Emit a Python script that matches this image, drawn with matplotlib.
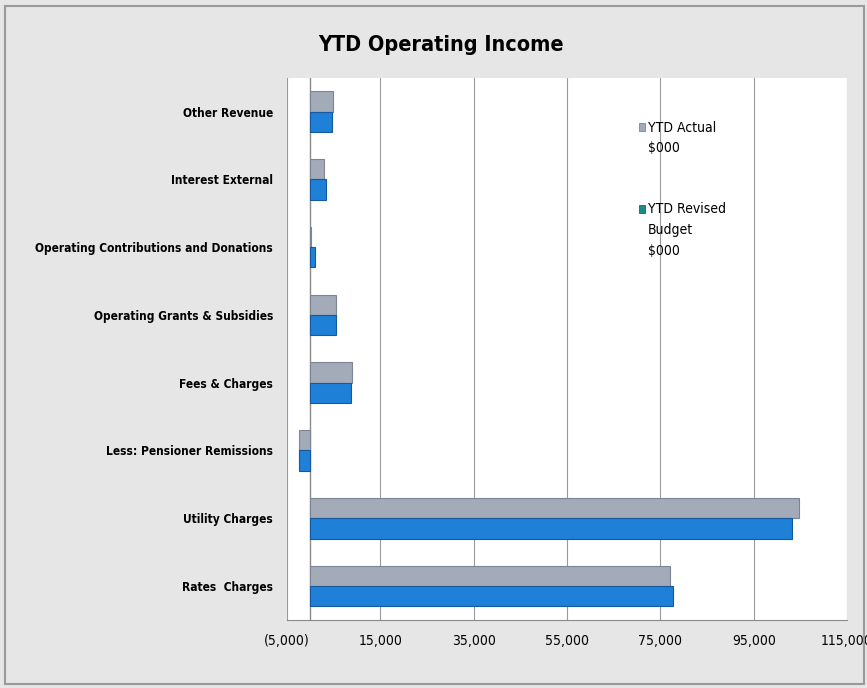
import matplotlib.pyplot as plt
from matplotlib.ticker import FuncFormatter
import matplotlib.patches as mpatches
import numpy as np

# Data (bottom to top)
categories = ['Rates  Charges', 'Utility Charges', 'Less: Pensioner Remissions',
              'Fees & Charges', 'Operating Grants & Subsidies',
              'Operating Contributions and Donations', 'Interest External', 'Other Revenue']
ytd_actual = [77100, 104800, -2400, 8900, 5600, 250, 2900, 4900]
ytd_budget = [77700, 103300, -2500, 8700, 5600, 1100, 3400, 4600]
xticks = [-5000, 15000, 35000, 55000, 75000, 95000, 115000]
series_names = ['YTD Actual\n$000', 'YTD Revised\nBudget\n$000']

plt.rcParams['font.family'] = ['DejaVu Sans']
plt.rcParams['font.stretch'] = 'condensed'

fig = plt.figure(figsize=(8.67, 6.88), dpi=100, facecolor='#e6e6e6')
ax = fig.add_axes([0.331, 0.099, 0.646, 0.788])
ax.set_facecolor('white')

gray, blue = '#a3aab8', '#1f80d8'
y = np.arange(len(categories))
h = 0.3
ax.barh(y + h / 2, ytd_actual, height=h, color=gray, edgecolor='#7d8594',
        linewidth=0.8, zorder=3)
ax.barh(y - h / 2, ytd_budget, height=h, color=blue, edgecolor='#1658a0',
        linewidth=0.8, zorder=3)

ax.set_xlim(-5000, 115000)
ax.set_ylim(-0.5, len(categories) - 0.5)
ax.set_xticks(xticks)
ax.xaxis.set_major_formatter(FuncFormatter(
    lambda v, p: f'({abs(v):,.0f})' if v < 0 else f'{v:,.0f}'))
ax.grid(axis='x', color='#9a9a9a', linewidth=0.8, zorder=0)
ax.axvline(0, color='#8a8a8a', linewidth=1, zorder=2)

ax.set_yticks(y)
ax.set_yticklabels(categories, fontsize=8.6, fontweight='bold')
ax.tick_params(axis='y', length=0, pad=10)
ax.tick_params(axis='x', length=0, labelsize=10, pad=10)

for s in ['top', 'right', 'left']:
    ax.spines[s].set_visible(False)
ax.spines['bottom'].set_color('#8a8a8a')

# legend drawn as text with small square keys, first line aligned with key
for (ty, name, col, edge) in [(0.909, series_names[0], gray, '#7d8594'),
                              (0.758, series_names[1], '#1c8a8a', '#156b6b')]:
    ax.add_patch(mpatches.Rectangle((0.628, ty - 0.008), 0.011, 0.015,
                                    transform=ax.transAxes, facecolor=col,
                                    edgecolor=edge, linewidth=0.6, clip_on=False))
    ax.text(0.644, ty + 0.012, name, transform=ax.transAxes, fontsize=10,
            va='top', ha='left', linespacing=1.6)

fig.text(0.509, 0.935, 'YTD Operating Income', ha='center', va='center',
         fontsize=15.5, fontweight='bold')

# outer border
fig.patches.append(plt.Rectangle((0.006, 0.006), 0.99, 0.985, transform=fig.transFigure,
                                 fill=False, edgecolor='#9a9a9a', linewidth=1.5))

plt.savefig('out.png', dpi=100, facecolor=fig.get_facecolor())
